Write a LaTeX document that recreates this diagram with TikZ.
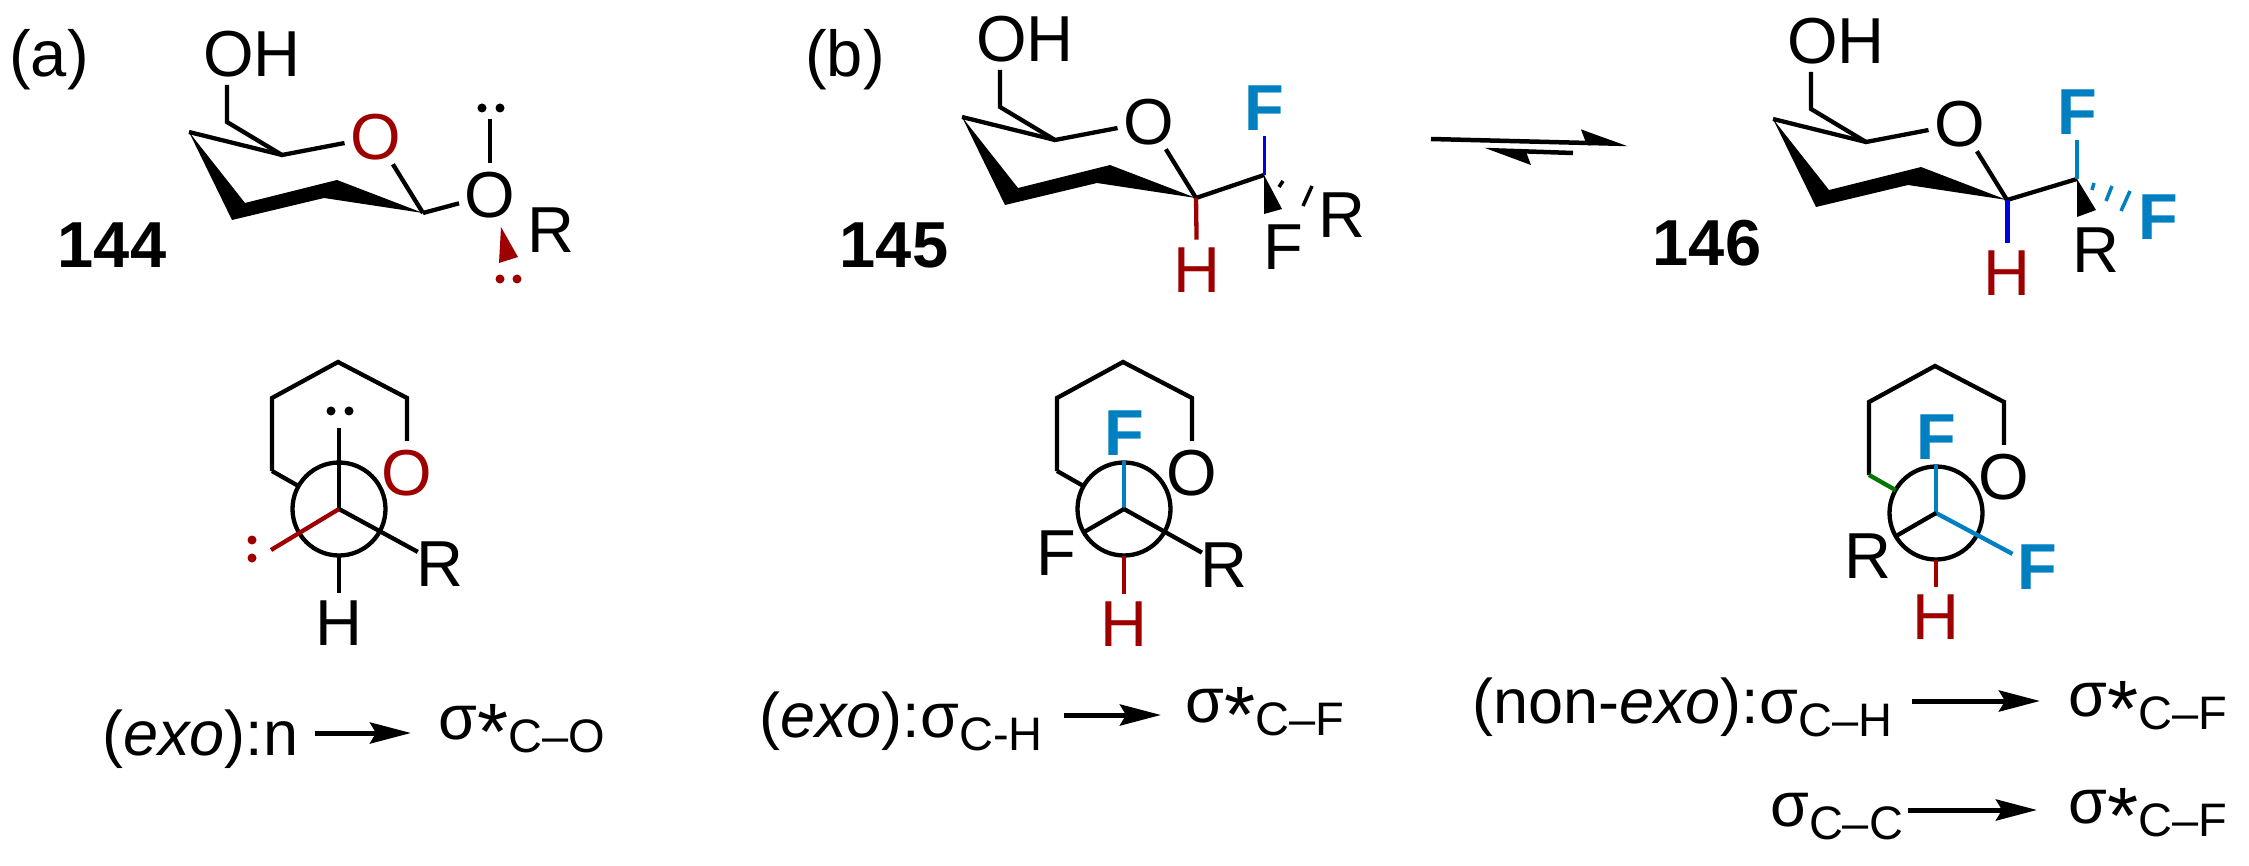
\documentclass[tikz,border=0pt]{standalone}
\usepackage{fontspec}
\setmainfont{Liberation Sans}
\setsansfont{Liberation Sans}
\usetikzlibrary{arrows.meta}
\definecolor{oxred}{HTML}{9E0000}
\definecolor{fblue}{HTML}{0080C0}
\definecolor{hblue}{HTML}{0000E0}
\definecolor{ccgreen}{HTML}{007800}
\newcommand{\bigfont}{\fontsize{65}{70}\selectfont}
\newcommand{\capfont}{\fontsize{63}{70}\selectfont}
\newcommand{\subfont}{\fontsize{47}{50}\selectfont}
\newcommand{\lowtext}[1]{\raisebox{-13pt}{\subfont #1}}
\newcommand{\sigstar}[1]{σ\raisebox{-20pt}{\fontsize{80}{80}\selectfont *}\lowtext{#1}}
\tikzset{
	pics/sugar/.style={code={
		\node[atom,text=#1] (-O) at (376,137) {O};
		\node[txt] (-OH) at (252,54) {OH};
		\coordinate (-Ob) at (227,85);
		\coordinate (-Cb) at (227,122);
		\coordinate (-C5) at (282,155);
		\coordinate (-C4) at (189,132);
		\coordinate (-C1) at (423,213);
		\fill (-C4) -- (245,203) -- (337,180) -- (-C1) -- (324,198) -- (232,220) -- cycle;
		\draw (-Ob) -- (-Cb) -- (-C5) -- (-O);
		\path (-C4) edge (-C5);
		\path (-C1) edge (-O);
	}},
	pics/newman/.style={code={
		\node[circle,draw,minimum size=93,inner sep=0pt,outer sep=0pt] (-N) at (339,509) {};
		\node[atom,text=#1] (-O) at (407,473) {O};
		\coordinate (-h2) at (272,471);
		\coordinate (-h3) at (272,398);
		\coordinate (-h4) at (338,362);
		\coordinate (-h5) at (407,398);
		\draw (-h2) -- (-h3) -- (-h4) -- (-h5) -- (-O);
	}},
}

\begin{document}
\begin{tikzpicture}[x=1pt, y=-1pt, line width=4.3pt]
    \tikzstyle{txt}=[font=\bigfont, inner sep=0pt]
    \tikzstyle{atom}=[circle, font=\bigfont, inner sep=0pt, outer sep=-2pt]
    \tikzstyle{fatom}=[atom, font=\bigfont\bfseries, text=fblue]
    \tikzstyle{cpd}=[font=\bigfont\bfseries, inner sep=0pt]
    \tikzstyle{lpdot}=[circle, fill, minimum size=9pt, inner sep=0pt]
    \tikzstyle{formula}=[anchor=base west, font=\capfont, inner sep=0pt]
    \tikzstyle{rxn}=[-{Stealth[length=41pt, width=21pt, inset=6pt]}, line width=5pt]
    \tikzstyle{eqm}=[-{Stealth[harpoon, length=40pt, width=26pt, inset=5pt]}, line width=4.5pt]
    \tikzstyle{hash}=[line width=3.5pt]
    \useasboundingbox (0,0) rectangle (2249,866);

    % (a) chair
    \node[txt] (lbla) at (49,60) {(a)};
    \node[cpd] (cpda) at (112,245) {144};
    \pic (a) at (0,0) {sugar=oxred};
    \node[atom] (aOx) at (490,195) {O};
    \node[atom] (aR) at (551,230) {R};
    \coordinate (aUp) at (490,119);
    \path (a-C1) edge (aOx);
    \path (aOx) edge (aUp);
    \node[lpdot] (aLp1) at (482,108) {};
    \node[lpdot] (aLp2) at (500,108) {};
    \fill[oxred] (501,227) -- (499,263) -- (518,257) -- cycle;
    \node[lpdot, fill=oxred] (aLp3) at (500,279) {};
    \node[lpdot, fill=oxred] (aLp4) at (517,279) {};

    % (b) chairs
    \node[txt] (lblb) at (845,60) {(b)};
    \node[cpd] (cpdb) at (894,245) {145};
    \pic (b) at (773,-15) {sugar=black};
    \coordinate (bC) at (1264,175);
    \node[atom, text=oxred] (bH) at (1197,270) {H};
    \node[fatom] (bFb) at (1264,108) {F};
    \node[atom] (bF) at (1283,247) {F};
    \node[atom] (bR) at (1342,215) {R};
    \path (b-C1) edge (bC);
    \path[draw=oxred] (b-C1) edge (bH);
    \path[draw=hblue, line width=3pt] (bC) edge (bFb);
    \fill (bC) -- (1264,214) -- (1282,209) -- cycle;
    \draw[hash] (1283,181) -- (1279,187);
    \draw[hash] (1312,186) -- (1303,206);

    \node[cpd] (cpdc) at (1707,243) {146};
    \pic (c) at (1584,-13) {sugar=black};
    \coordinate (cC) at (2077,179);
    \node[atom, text=oxred] (cH) at (2007,273) {H};
    \node[fatom] (cFt) at (2077,112) {F};
    \node[fatom] (cFr) at (2158,217) {F};
    \node[atom] (cR) at (2096,250) {R};
    \path (c-C1) edge (cC);
    \path[draw=hblue, line width=5pt] (c-C1) edge (cH);
    \path[draw=fblue] (cC) edge (cFt);
    \fill (cC) -- (2077,217) -- (2096,210) -- cycle;
    \draw[hash, fblue] (2094,183) -- (2092,190);
    \draw[hash, fblue] (2112,186) -- (2106,201);
    \draw[hash, fblue] (2130,191) -- (2121,211);

    % equilibrium
    \coordinate (eqL) at (1431,139);
    \coordinate (eqR) at (1628,144);
    \coordinate (eqBr) at (1573,153);
    \coordinate (eqBl) at (1484,150);
    \path (eqL) edge[eqm] (eqR);
    \path (eqBr) edge[eqm] (eqBl);

    % Newman projections
    \pic (na) at (0,0) {newman=oxred};
    \coordinate (naC) at (339,509);
    \coordinate (naUp) at (339,428);
    \coordinate (naLp) at (271,550);
    \node[atom] (naH) at (339,623) {H};
    \node[atom] (naR) at (440,564) {R};
    \path (na-h2) edge (na-N);
    \path (naC) edge (naUp);
    \path (naC) edge[shorten >=-5pt] (naR);
    \path[draw=oxred] (naC) edge (naLp);
    \path (na-N) edge (naH);
    \node[lpdot] (naLp1) at (331,411) {};
    \node[lpdot] (naLp2) at (349,411) {};
    \node[lpdot, fill=oxred] (naLp3) at (252,540) {};
    \node[lpdot, fill=oxred] (naLp4) at (252,558) {};

    \pic (nb) at (785,0) {newman=black};
    \coordinate (nbC) at (1124,509);
    \node[fatom] (nbFt) at (1124,433) {F};
    \node[atom] (nbF) at (1056,553) {F};
    \node[atom] (nbR) at (1224,565) {R};
    \node[atom, text=oxred] (nbH) at (1124,624) {H};
    \path (nb-h2) edge (nb-N);
    \path[draw=fblue] (nbC) edge (nbFt);
    \path (nbC) edge (nb-N.210);
    \path (nbC) edge[shorten >=-5pt] (nbR);
    \path[draw=oxred] (nb-N) edge (nbH);

    \pic (nc) at (1597,4) {newman=black};
    \coordinate (ncC) at (1936,513);
    \node[fatom] (ncFt) at (1936,437) {F};
    \node[fatom] (ncFr) at (2037,567) {F};
    \node[atom] (ncR) at (1868,556) {R};
    \node[atom, text=oxred] (ncH) at (1936,617) {H};
    \path[draw=ccgreen] (nc-h2) edge (nc-N);
    \path[draw=fblue] (ncC) edge (ncFt);
    \path[draw=fblue] (ncC) edge (ncFr);
    \path (ncC) edge (nc-N.210);
    \path[draw=oxred] (nc-N) edge (ncH);

    % orbital captions
    \node[formula] (fa) at (100,755) {(\textit{exo}):n};
    \node[formula] (fas) at (436,739) {\sigstar{C–O}};
    \node[formula] (fb) at (757,737) {(\textit{exo}):σ\lowtext{C-H}};
    \node[formula] (fbs) at (1183,722) {\sigstar{C–F}};
    \node[formula] (fc) at (1470,723) {(non-\textit{exo}):σ\lowtext{C–H}};
    \node[formula] (fcs) at (2066,716) {\sigstar{C–F}};
    \node[formula] (fd) at (1768,826) {σ\lowtext{C–C}};
    \node[formula] (fds) at (2066,823) {\sigstar{C–F}};

    \coordinate (ra1) at (315,733);
    \coordinate (ra2) at (411,733);
    \coordinate (rb1) at (1064,715);
    \coordinate (rb2) at (1161,715);
    \coordinate (rc1) at (1912,701);
    \coordinate (rc2) at (2040,701);
    \coordinate (rd1) at (1908,810);
    \coordinate (rd2) at (2037,810);
    \path (ra1) edge[rxn] (ra2);
    \path (rb1) edge[rxn] (rb2);
    \path (rc1) edge[rxn] (rc2);
    \path (rd1) edge[rxn] (rd2);
\end{tikzpicture}
\end{document}
